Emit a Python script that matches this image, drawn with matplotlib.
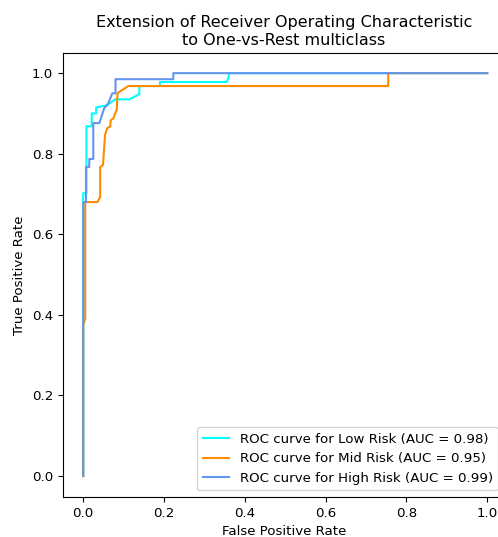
import matplotlib
matplotlib.use('Agg')
import matplotlib.pyplot as plt

class_names = ['Low Risk', 'Mid Risk', 'High Risk']
auc_scores = [0.98, 0.95, 0.99]
colors = ['aqua', 'darkorange', 'cornflowerblue']

# ROC points (false positive rate, true positive rate)
fpr_low = [0.0, 0.0, 0.008, 0.008, 0.021, 0.021, 0.032, 0.032, 0.059, 0.079,
           0.115, 0.139, 0.139, 0.19, 0.19, 0.355, 0.36, 0.36, 1.0]
tpr_low = [0.0, 0.702, 0.702, 0.868, 0.868, 0.90, 0.90, 0.915, 0.92, 0.935,
           0.935, 0.948, 0.968, 0.968, 0.978, 0.978, 0.99, 1.0, 1.0]

fpr_mid = [0.0, 0.0, 0.005, 0.005, 0.035, 0.042, 0.042, 0.049, 0.054, 0.059,
           0.067, 0.068, 0.075, 0.079, 0.083, 0.085, 0.09, 0.112, 0.755, 0.755, 1.0]
tpr_mid = [0.0, 0.375, 0.39, 0.68, 0.68, 0.693, 0.767, 0.772, 0.846, 0.863,
           0.868, 0.883, 0.888, 0.90, 0.908, 0.95, 0.954, 0.968, 0.968, 1.0, 1.0]

fpr_high = [0.0, 0.0, 0.007, 0.007, 0.015, 0.015, 0.025, 0.025, 0.04, 0.052,
            0.062, 0.072, 0.08, 0.08, 0.223, 0.223, 1.0]
tpr_high = [0.0, 0.68, 0.68, 0.767, 0.767, 0.787, 0.787, 0.876, 0.876, 0.913,
            0.925, 0.95, 0.95, 0.985, 0.985, 1.0, 1.0]

fprs = [fpr_low, fpr_mid, fpr_high]
tprs = [tpr_low, tpr_mid, tpr_high]

plt.rcParams['font.size'] = 9.6

fig = plt.figure(figsize=(4.98, 5.37), dpi=100)
# axes box runs past the right edge of the figure, as in the reference
ax = fig.add_axes([63 / 498, 40 / 537, 442 / 498, 444 / 537])

for name, auc, color, fpr, tpr in zip(class_names, auc_scores, colors, fprs, tprs):
    ax.plot(fpr, tpr, color=color, lw=1.5,
            label=f'ROC curve for {name} (AUC = {auc:.2f})')

ax.set_xlim(-0.05, 1.044)
ax.set_ylim(-0.052, 1.05)
ax.set_xlabel('False Positive Rate')
ax.set_ylabel('True Positive Rate')
ax.set_title('Extension of Receiver Operating Characteristic\nto One-vs-Rest multiclass',
             fontsize=11.5)
ax.legend(loc='lower right')

fig.savefig('out.png', dpi=100)
